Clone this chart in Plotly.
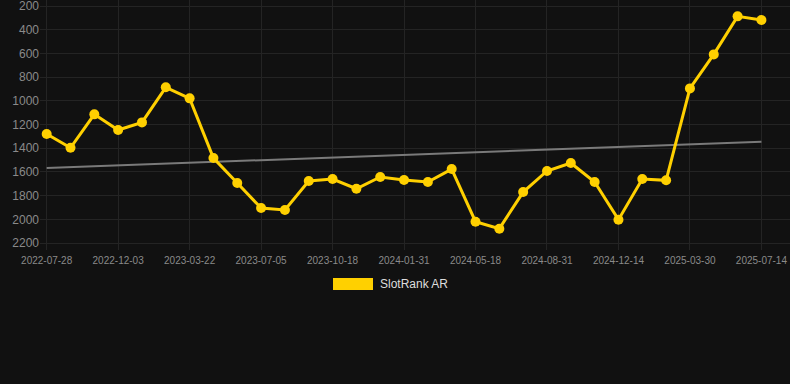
import plotly.graph_objects as go

dates = [
    "2022-07-28", "2022-09-10", "2022-10-22", "2022-12-03", "2023-01-08", "2023-02-14",
    "2023-03-22", "2023-04-26", "2023-05-31", "2023-07-05", "2023-08-09", "2023-09-13",
    "2023-10-18", "2023-11-22", "2023-12-27", "2024-01-31", "2024-03-06", "2024-04-12",
    "2024-05-18", "2024-06-22", "2024-07-27", "2024-08-31", "2024-10-05", "2024-11-09",
    "2024-12-14", "2025-01-18", "2025-02-23", "2025-03-30", "2025-05-04", "2025-06-08",
    "2025-07-14",
]
rank = [
    1280, 1396, 1114, 1246, 1182, 886, 979, 1483, 1694, 1905, 1921,
    1677, 1660, 1742, 1643, 1668, 1685, 1576, 2020, 2079, 1770,
    1592, 1525, 1685, 2003, 1660, 1671, 895, 608, 287, 318,
]
trend_x = [dates[0], dates[-1]]
trend_y = [1567, 1345]
y_ticks = [200, 400, 600, 800, 1000, 1200, 1400, 1600, 1800, 2000, 2200]
x_ticks = dates[::3]
series_name = "SlotRank AR"

YELLOW = "#FFD000"
BG = "#111111"
GRID = "#242424"
FONT = "Liberation Sans, Arial, sans-serif"

fig = go.Figure()
fig.add_trace(go.Scatter(
    x=trend_x, y=trend_y, mode="lines",
    line=dict(color="#7a7a7a", width=2), showlegend=False, hoverinfo="skip",
))
fig.add_trace(go.Scatter(
    x=dates, y=rank, mode="lines+markers", name=series_name,
    line=dict(color=YELLOW, width=3),
    marker=dict(color=YELLOW, size=10),
    showlegend=False,
))

W, H = 790, 384
L, R, T, B = 40, 0, 0, 134
pw, ph = W - L - R, H - T - B

def px_x(x):
    return (x - L) / pw

def px_y(y):
    return (H - B - y) / ph

fig.add_shape(type="rect", xref="paper", yref="paper",
              x0=px_x(333), x1=px_x(373), y0=px_y(278), y1=px_y(290),
              fillcolor=YELLOW, line=dict(width=0))
fig.add_annotation(xref="paper", yref="paper", x=px_x(378), y=px_y(284),
                   text=series_name, showarrow=False, xanchor="left", yanchor="middle",
                   font=dict(family=FONT, size=12, color="#dddddd"))

fig.update_layout(
    width=W, height=H,
    margin=dict(l=L, r=R, t=T, b=B, pad=0),
    paper_bgcolor=BG, plot_bgcolor=BG,
    font=dict(family=FONT, color="#8a8a8a"),
    showlegend=False,
    xaxis=dict(
        type="category", categoryorder="array", categoryarray=dates,
        range=[-0.28, 31.2],
        tickmode="array", tickvals=x_ticks, ticktext=x_ticks,
        tickfont=dict(size=10, color="#8a8a8a"),
        showgrid=True, gridcolor=GRID, gridwidth=1,
        zeroline=False, showline=False, ticks="", tickangle=0,
        ticklabeloverflow="allow", ticklabelstandoff=3,
    ),
    yaxis=dict(
        range=[2259, 149],
        tickmode="array", tickvals=y_ticks,
        tickfont=dict(size=12, color="#8a8a8a"),
        showgrid=True, gridcolor=GRID, gridwidth=1,
        zeroline=False, showline=False, ticks="",
        ticklabeloverflow="allow",
    ),
)

fig.write_html(
    "out.html",
    config={"displayModeBar": False},
    post_script="document.body.style.margin='0';document.body.style.background='#111111';",
)
